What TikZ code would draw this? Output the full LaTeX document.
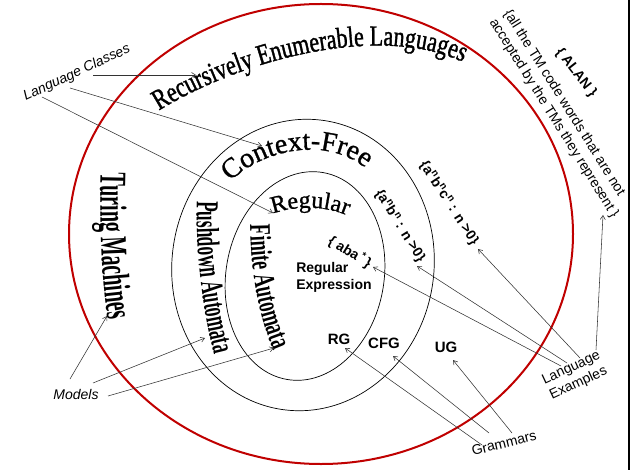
\documentclass[tikz,border=0pt]{standalone}
\usepackage{fontspec}
\usetikzlibrary{arrows.meta,decorations.text}
\newfontfamily\lsans{Liberation Sans}
\newfontfamily\fRE[FakeStretch=0.76,FakeBold=1.2]{Liberation Serif}
\newfontfamily\fCF[FakeBold=1.0]{Liberation Serif}
\newfontfamily\fTM[FakeStretch=0.53]{Liberation Serif}
\newfontfamily\fPA[FakeStretch=0.54]{Liberation Serif}
\newfontfamily\fFA[FakeStretch=0.61]{Liberation Serif}
\definecolor{ellred}{RGB}{192,0,0}
\begin{document}
\begin{tikzpicture}[x=1pt,y=-1pt,
  lbl/.style={inner sep=0pt, font=\lsans\fontsize{14}{17}\selectfont},
  lbli/.style={lbl, font=\lsans\itshape\fontsize{14}{17}\selectfont},
  lblb/.style={lbl, font=\lsans\bfseries\fontsize{14}{17}\selectfont},
  conn/.style={draw=black!80, line width=0.55pt, -{Straight Barb[length=4pt,width=5pt]}},
  thinell/.style={draw=black, line width=0.7pt},
  redell/.style={draw=ellred, line width=2pt}]
\useasboundingbox (0,0) rectangle (631,470);
\fill[white] (0,0) rectangle (631,470);
\draw[black, line width=1.5pt] (629.2,0) -- (629.2,470);

% ellipses
\draw[redell] (321,234) ellipse (252 and 230);
\draw[thinell, rotate around={-8:(303,265)}] (303,265) ellipse (131 and 146);
\draw[thinell, rotate around={-10:(305,276)}] (305,276) ellipse (79 and 105);

% arched class names
\path[decorate, decoration={text along path, text align=center,
  text={|\fRE\fontsize{29}{29}\selectfont|Recursively Enumerable Languages}}]
  (155,113) .. controls (235,62) and (380,20) .. (467,64);
\path[decorate, decoration={text along path, text align=center,
  text={|\fCF\fontsize{28}{28}\selectfont|Context-Free}}]
  (224,188) .. controls (258,148) and (332,133) .. (372,174);
\path[decorate, decoration={text along path, text align=center,
  text={|\fCF\fontsize{24}{24}\selectfont|Regular}}]
  (269,215) .. controls (295,205) and (325,205) .. (351,217);
\path[decorate, decoration={text along path, text align=center,
  text={|\fTM\bfseries\fontsize{38}{38}\selectfont|Turing Machines}}]
  (101,164) .. controls (99,220) and (101,280) .. (109,328);
\path[decorate, decoration={text along path, text align=center,
  text={|\fPA\bfseries\fontsize{32}{32}\selectfont|Pushdown Automata}}]
  (197,194) .. controls (195,250) and (202,310) .. (216,362);
\path[decorate, decoration={text along path, text align=center,
  text={|\fFA\bfseries\fontsize{30}{30}\selectfont|Finite Automata}}]
  (250,219) .. controls (250,270) and (259,320) .. (276,356);

% inner texts
\node[lblb, align=left] (regex) at (334,277) {Regular\\Expression};
\node[lblb, font=\lsans\bfseries\fontsize{15}{17}\selectfont] (rg) at (339,339) {RG};
\node[lblb, font=\lsans\bfseries\fontsize{15}{17}\selectfont] (cfg) at (384,343) {CFG};
\node[lblb, font=\lsans\bfseries\fontsize{15}{17}\selectfont] (ug) at (446,347) {UG};
\node[lblb, rotate=-32] (aba) at (350,252) {\{ aba\,\textsuperscript{*}\,\}};
\node[lblb, rotate=-58] (anbn) at (400,226) {\{a\textsuperscript{n}b\textsuperscript{n} : n >0\}};
\node[lblb, rotate=-57] (anbncn) at (449,203) {\{a\textsuperscript{n}b\textsuperscript{n}c\textsuperscript{n} : n >0\}};
\node[lblb, rotate=-52] (alan) at (576,73) {\{ ALAN \}};
\node[lbl, rotate=-58, align=left] (tmcode) at (561,114) {\{all the TM code words that are not\\accepted by the TMs they represent \}};

% outside labels
\node[lbli, rotate=25] (langclasses) at (77,73) {Language Classes};
\node[lbli] (models) at (76,394) {Models};
\node[lbl, rotate=14] (grammars) at (504,443) {Grammars};
\node[lbl, rotate=25, align=center] (langex) at (575,376) {Language\\Examples};

% connector end points
\coordinate (lc1s) at (93,75);   \coordinate (lc1e) at (196,75);
\coordinate (lc2s) at (70,88);   \coordinate (lc2e) at (262,146);
\coordinate (lc3s) at (42,97);   \coordinate (lc3e) at (273,213);
\coordinate (m1s) at (70,379);   \coordinate (m1e) at (107,316);
\coordinate (m2s) at (93,383);   \coordinate (m2e) at (205,338);
\coordinate (m3s) at (108,396);  \coordinate (m3e) at (274,348);
\coordinate (g1s) at (482,445);  \coordinate (g1e) at (345,348);
\coordinate (g2s) at (489,433);  \coordinate (g2e) at (393,356);
\coordinate (g3s) at (512,433);  \coordinate (g3e) at (453,360);
\coordinate (e1s) at (561,366);  \coordinate (e1e) at (373,267);
\coordinate (e2s) at (567,363);  \coordinate (e2e) at (417,266);
\coordinate (e3s) at (580,358);  \coordinate (e3e) at (478,249);
\coordinate (e4s) at (596,350);  \coordinate (e4e) at (603,215);

\draw[conn] (lc1s) -- (lc1e);
\draw[conn] (lc2s) -- (lc2e);
\draw[conn] (lc3s) -- (lc3e);
\draw[conn] (m1s) -- (m1e);
\draw[conn] (m2s) -- (m2e);
\draw[conn] (m3s) -- (m3e);
\draw[conn] (g1s) -- (g1e);
\draw[conn] (g2s) -- (g2e);
\draw[conn] (g3s) -- (g3e);
\draw[conn] (e1s) -- (e1e);
\draw[conn] (e2s) -- (e2e);
\draw[conn] (e3s) -- (e3e);
\draw[conn] (e4s) -- (e4e);
\end{tikzpicture}
\end{document}
